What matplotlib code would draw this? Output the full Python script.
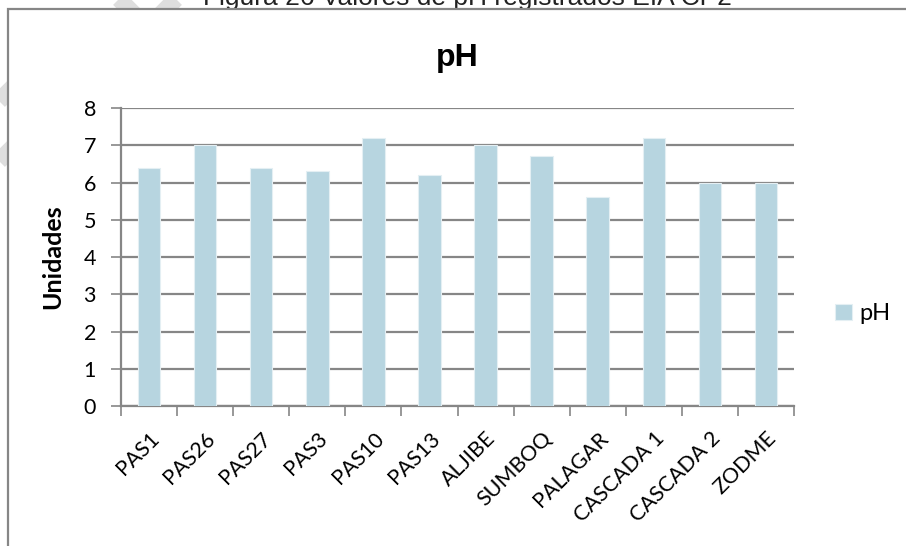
import matplotlib
matplotlib.use("Agg")
import matplotlib.pyplot as plt
import matplotlib.patches as mpatches
import matplotlib.transforms as mtransforms
from matplotlib.lines import Line2D
import numpy as np

stations = ["PAS1", "PAS26", "PAS27", "PAS3", "PAS10", "PAS13", "ALJIBE",
            "SUMBOQ", "PALAGAR", "CASCADA 1", "CASCADA 2", "ZODME"]
ph_values = [6.4, 7.0, 6.4, 6.3, 7.2, 6.2, 7.0, 6.7, 5.6, 7.2, 6.0, 6.0]
y_ticks = [0, 1, 2, 3, 4, 5, 6, 7, 8]

W, H = 906, 546
bar_color = "#b7d5e0"
grid_color = "#868686"
body_font = "Lato"

fig = plt.figure(figsize=(W / 100, H / 100), dpi=100)
fig.patch.set_facecolor("white")

# faint watermark bands behind the chart frame
def px(x, y):
    return x / W, 1 - y / H

for (x0, y0), (x1, y1) in [((100, -20), (190, 70)), ((195, -20), (105, 70)),
                            ((-40, 140), (40, 60)), ((-40, 200), (40, 120))]:
    a, b = px(x0, y0), px(x1, y1)
    fig.add_artist(Line2D([a[0], b[0]], [a[1], b[1]], transform=fig.transFigure,
                          color="#dedede", lw=12, solid_capstyle="butt", zorder=0))

# chart frame (continues beyond the right and bottom edges)
fl, ft = px(8, 9)
fig.add_artist(mpatches.Rectangle((fl, -0.2), 1.2, ft + 0.2, transform=fig.transFigure,
                                  facecolor="white", edgecolor=grid_color, lw=1.6, zorder=1))

# caption, cut at the top of the picture
fig.text(467 / W, 1 - 5 / H, "Figura 26 Valores de pH registrados EIA CP2",
         ha="center", va="baseline", fontsize=19, family="Liberation Sans",
         color="#222222", zorder=0.5)

ax = fig.add_axes([121 / W, 1 - 406 / H, (794 - 121) / W, (406 - 108) / H])
ax.set_zorder(2)
ax.patch.set_alpha(0)

x = np.arange(len(stations))
ax.bar(x, ph_values, width=0.4, color=bar_color, edgecolor="#e4eff3", linewidth=0.8,
       label="pH", zorder=3)

ax.set_xlim(-0.5, len(stations) - 0.5)
ax.set_ylim(0, 8)
ax.set_yticks(y_ticks)
ax.set_yticklabels([str(v) for v in y_ticks], fontsize=15.5, family=body_font)
ax.yaxis.grid(True, color=grid_color, lw=1.6, zorder=1)
ax.set_axisbelow(True)

ax.set_xticks(x)
ax.set_xticklabels(stations, rotation=45, ha="right", rotation_mode="anchor",
                   fontsize=15.5, family=body_font)
shift = mtransforms.ScaledTranslation(1 / 100, 0, fig.dpi_scale_trans)
for lbl in ax.get_xticklabels():
    lbl.set_transform(lbl.get_transform() + shift)
ax.tick_params(axis="x", length=0, pad=16)
ax.set_xticks(np.arange(len(stations) + 1) - 0.5, minor=True)
ax.tick_params(axis="x", which="minor", length=7, width=1.2, color=grid_color)
ax.tick_params(axis="y", length=7, width=1.2, color=grid_color, pad=11)

for side in ["top", "right"]:
    ax.spines[side].set_visible(False)
for side in ["left", "bottom"]:
    ax.spines[side].set_color(grid_color)
    ax.spines[side].set_linewidth(1.6)

ax.set_ylabel("Unidades", fontsize=18, fontweight="bold", family=body_font, labelpad=14)
ax.set_title("pH", fontsize=23, fontweight="bold", family="Liberation Sans", pad=30)

ax.legend(loc="center left", bbox_to_anchor=(1.03, 0.31), frameon=False,
          prop={"family": body_font, "size": 17}, handlelength=0.7, handleheight=0.7,
          handletextpad=0.3)

fig.savefig("out.png", dpi=100)
